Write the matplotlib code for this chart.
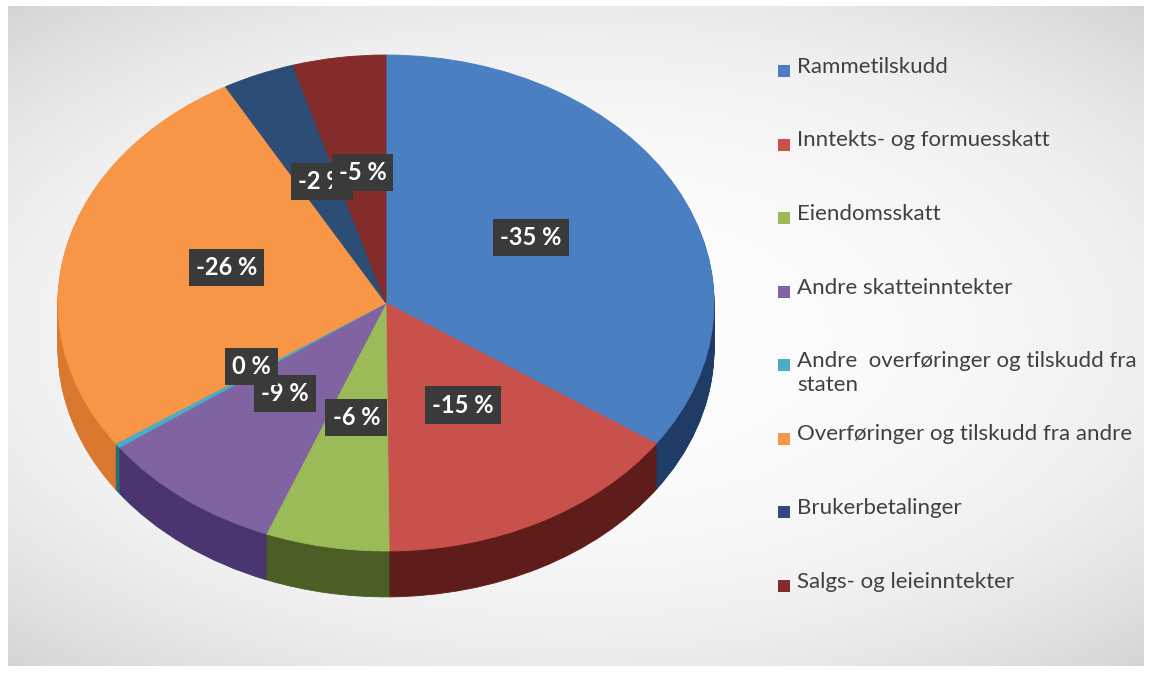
import matplotlib.pyplot as plt
import numpy as np
from matplotlib.patches import Rectangle

# --- Data ---
categories = ['Rammetilskudd', 'Inntekts- og formuesskatt', 'Eiendomsskatt',
              'Andre skatteinntekter', 'Andre  overføringer og tilskudd fra\nstaten',
              'Overføringer og tilskudd fra andre', 'Brukerbetalinger',
              'Salgs- og leieinntekter']
shares = [34, 15, 6, 9, 0.3, 26, 3.5, 4.5]          # slice size (abs. percent)
pct_labels = ['-35 %', '-15 %', '-6 %', '-9 %', '0 %', '-26 %', '-2 %', '-5 %']

top_colors = ['#4A7FC1', '#C9514C', '#9BBB59', '#8064A2', '#4BACC6',
              '#F79646', '#2C4D75', '#832C2A']
side_colors = ['#1E3C66', '#5E1C1A', '#4A5E25', '#4A3570', '#2A6A7A',
               '#D9782E', '#1A2E48', '#4A1818']

W, H = 1152, 674
fig = plt.figure(figsize=(W / 100, H / 100), dpi=100)
fig.patch.set_facecolor('white')

# background panel with soft gradient
bg = fig.add_axes([8 / W, 1 - 666 / H, 1136 / W, 660 / H])
yy, xx = np.mgrid[-1:1:200j, -1:1:300j]
grad = 1 - 0.6 * np.clip(np.sqrt((xx * 0.9) ** 2 + (yy * 1.0) ** 2), 0, 1.4) ** 2
bg.imshow(grad, cmap='Greys_r', vmin=-3.2, vmax=1.05, aspect='auto',
          extent=[0, 1, 0, 1], interpolation='bicubic')
bg.set_axis_off()

# pie axes: top face ellipse centre (386, 303) px, rx 328, ry 248
cx, cy, rx, ry = 386, 303, 328, 248
xl = (-1.15, 1.15)
yl = (-1.4, 1.15)
left_px = cx + xl[0] * rx
top_px = cy - yl[1] * ry
bot_px = cy - yl[0] * ry
ax = fig.add_axes([left_px / W, 1 - bot_px / H,
                   (xl[1] - xl[0]) * rx / W, (bot_px - top_px) / H])
ax.set_facecolor('none')

depth = 0.185
n_layers = 40
for d in np.linspace(depth, 0.004, n_layers):
    ax.pie(shares, colors=side_colors, startangle=90, counterclock=False,
           center=(0, -d), radius=1.0, frame=True,
           wedgeprops=dict(linewidth=0.6, edgecolor=None))
    for w, c in zip(ax.patches[-len(shares):], side_colors):
        w.set_edgecolor(c)

wedges, _ = ax.pie(shares, colors=top_colors, startangle=90, counterclock=False,
                   center=(0, 0), radius=1.0, frame=True,
                   wedgeprops=dict(linewidth=0.6))
for w, c in zip(wedges, top_colors):
    w.set_edgecolor(c)

# data labels in dark boxes
for w, lab in zip(wedges, pct_labels):
    mid = np.deg2rad((w.theta1 + w.theta2) / 2)
    r = 0.5
    ax.text(r * np.cos(mid), r * np.sin(mid) + 0.03, lab, ha='center', va='center',
            fontsize=17, fontweight='bold', color='white', family='Lato',
            bbox=dict(boxstyle='square,pad=0.3', facecolor='#3A3A3A',
                      edgecolor='none'))

ax.set_aspect('auto')
ax.set_xlim(*xl)
ax.set_ylim(*yl)
ax.set_axis_off()

# legend
leg_x = 778
leg_y0 = 71
leg_step = 73.5
for i, (cat, col) in enumerate(zip(categories, top_colors)):
    yc = leg_y0 + i * leg_step
    fig.patches.append(Rectangle((leg_x / W, 1 - (yc + 6) / H), 12 / W, 12 / H,
                                 transform=fig.transFigure, facecolor=col,
                                 edgecolor='none'))
    fig.text(797 / W, 1 - (yc - 14) / H, cat, ha='left', va='top',
             fontsize=16, color='#404040', family='Lato', linespacing=1.25)

plt.savefig('out.png', dpi=100)
